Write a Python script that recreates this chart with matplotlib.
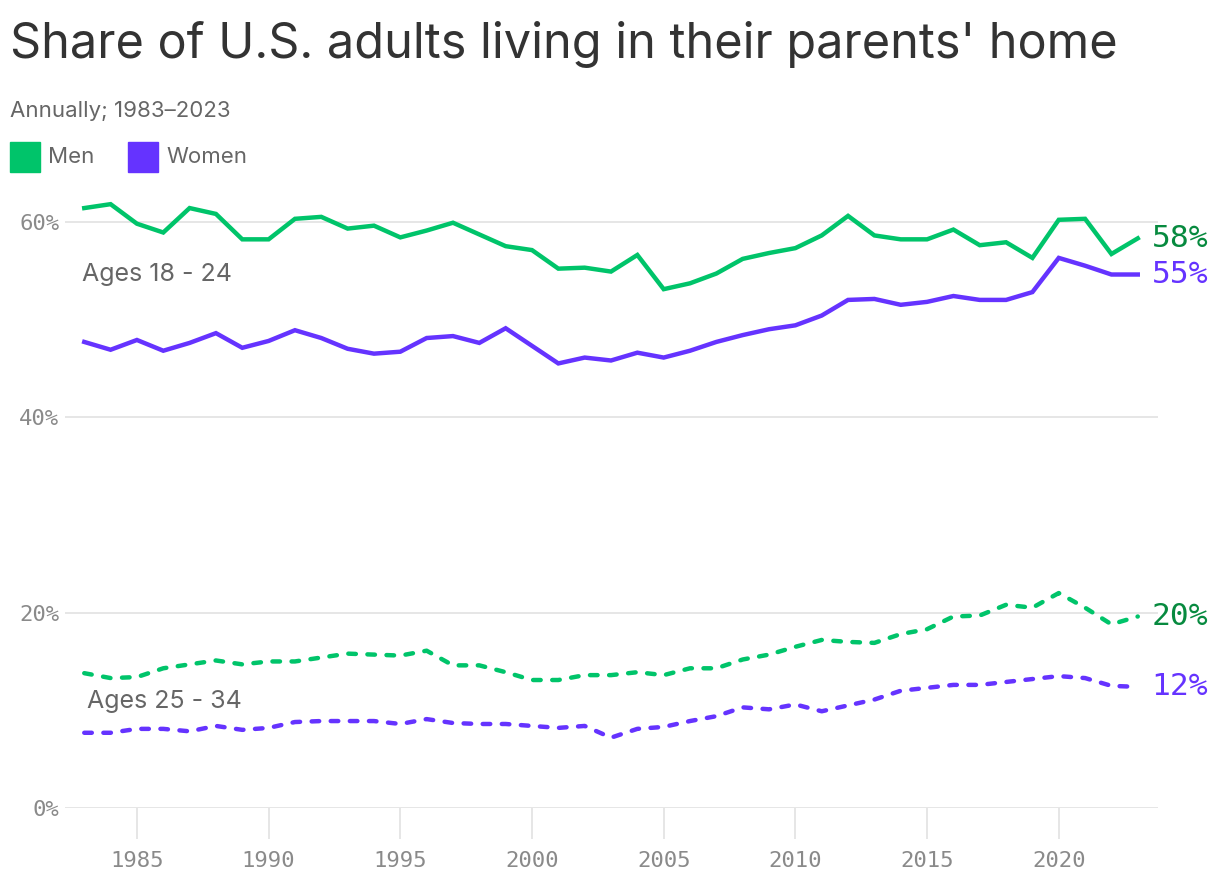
import matplotlib
matplotlib.use("Agg")
import matplotlib.pyplot as plt
from matplotlib.patches import Rectangle

# data (percent)
years = list(range(1983, 2024))
men_18_24 = [61.4, 61.8, 59.8, 58.9, 61.4, 60.8, 58.2, 58.2, 60.3, 60.5,
             59.3, 59.6, 58.4, 59.1, 59.9, 58.7, 57.5, 57.1, 55.2, 55.3,
             54.9, 56.6, 53.1, 53.7, 54.7, 56.2, 56.8, 57.3, 58.6, 60.6,
             58.6, 58.2, 58.2, 59.2, 57.6, 57.9, 56.3, 60.2, 60.3, 56.7, 58.3]
women_18_24 = [47.7, 46.9, 47.9, 46.8, 47.6, 48.6, 47.1, 47.8, 48.9, 48.1,
               47.0, 46.5, 46.7, 48.1, 48.3, 47.6, 49.1, 47.3, 45.5, 46.1,
               45.8, 46.6, 46.1, 46.8, 47.7, 48.4, 49.0, 49.4, 50.4, 52.0,
               52.1, 51.5, 51.8, 52.4, 52.0, 52.0, 52.8, 56.3, 55.5, 54.6, 54.6]
men_25_34 = [13.8, 13.3, 13.4, 14.3, 14.7, 15.1, 14.7, 15.0, 15.0, 15.4,
             15.8, 15.7, 15.6, 16.1, 14.6, 14.6, 13.9, 13.1, 13.1, 13.6,
             13.6, 13.9, 13.6, 14.3, 14.3, 15.2, 15.7, 16.5, 17.2, 17.0,
             16.9, 17.8, 18.3, 19.6, 19.7, 20.8, 20.5, 22.0, 20.5, 18.8, 19.6]
women_25_34 = [7.7, 7.7, 8.1, 8.1, 7.85, 8.4, 8.0, 8.2, 8.8, 8.9,
               8.9, 8.9, 8.6, 9.1, 8.7, 8.6, 8.6, 8.4, 8.2, 8.4,
               7.2, 8.1, 8.3, 8.9, 9.4, 10.3, 10.1, 10.6, 9.9, 10.5,
               11.1, 12.0, 12.3, 12.6, 12.6, 12.9, 13.2, 13.5, 13.3, 12.5, 12.4]
y_ticks = [0, 20, 40, 60]
x_ticks = [1985, 1990, 1995, 2000, 2005, 2010, 2015, 2020]

GREEN = "#00c46a"
GREEN_DARK = "#078a3f"
PURPLE = "#6533ff"
GRID = "#e4e4e4"
SANS = "Inter"
MONO = "DejaVu Sans Mono"

fig = plt.figure(figsize=(12.2, 8.74), dpi=100)
ax = fig.add_axes([0.0533, 0.0755, 0.8957, 0.7155])

ax.plot(years, men_18_24, color=GREEN, lw=3.2, solid_joinstyle="miter")
ax.plot(years, women_18_24, color=PURPLE, lw=3.2, solid_joinstyle="miter")
ax.plot(years, men_25_34, color=GREEN, lw=3.2, dashes=(1.7, 2.6),
        dash_capstyle="round")
ax.plot(years, women_25_34, color=PURPLE, lw=3.2, dashes=(1.7, 2.6),
        dash_capstyle="round")

ax.set_xlim(1982.27, 2023.76)
ax.set_ylim(0, 64)
for s in ax.spines.values():
    s.set_visible(False)
ax.set_yticks(y_ticks)
ax.set_yticklabels([f"{v}%" for v in y_ticks])
ax.set_xticks(x_ticks)
ax.set_xticklabels([str(v) for v in x_ticks])
ax.grid(axis="y", color=GRID, lw=1.3)
ax.set_axisbelow(True)
ax.tick_params(axis="y", length=0, pad=4, labelsize=16, labelcolor="#8a8a8a")
ax.tick_params(axis="x", length=22, width=1.3, color=GRID, pad=9,
               labelsize=16, labelcolor="#8a8a8a")
for lab in ax.get_xticklabels() + ax.get_yticklabels():
    lab.set_family(MONO)

# end labels
ends = [(men_18_24[-1], GREEN_DARK), (women_18_24[-1], PURPLE),
        (men_25_34[-1], GREEN_DARK), (women_25_34[-1], PURPLE)]
for val, col in ends:
    ax.annotate(f"{round(val)}%", (years[-1], val), xytext=(10, 0),
                textcoords="offset points", va="center", ha="left",
                fontsize=22.5, color=col, family=MONO, annotation_clip=False)

ax.text(1982.9, 54.6, "Ages 18 - 24", fontsize=18, color="#666666",
        family=SANS, va="center")
ax.text(1983.1, 10.9, "Ages 25 - 34", fontsize=18, color="#666666",
        family=SANS, va="center")

# title, subtitle, legend
fig.text(10 / 1220, 1 - 45 / 874, "Share of U.S. adults living in their parents' home",
         fontsize=35, color="#333333", family=SANS, va="center")
fig.text(10 / 1220, 1 - 111 / 874, "Annually; 1983\u20132023", fontsize=16,
         color="#666666", family=SANS, va="center")
for x0, col, name in [(10, GREEN, "Men"), (128, PURPLE, "Women")]:
    fig.patches.append(Rectangle((x0 / 1220, 1 - 172 / 874), 30 / 1220, 30 / 874,
                                 transform=fig.transFigure, color=col))
    fig.text((x0 + 38) / 1220, 1 - 157 / 874, name, fontsize=16,
             color="#666666", family=SANS, va="center")

fig.savefig("out.png", dpi=100, facecolor="white")
